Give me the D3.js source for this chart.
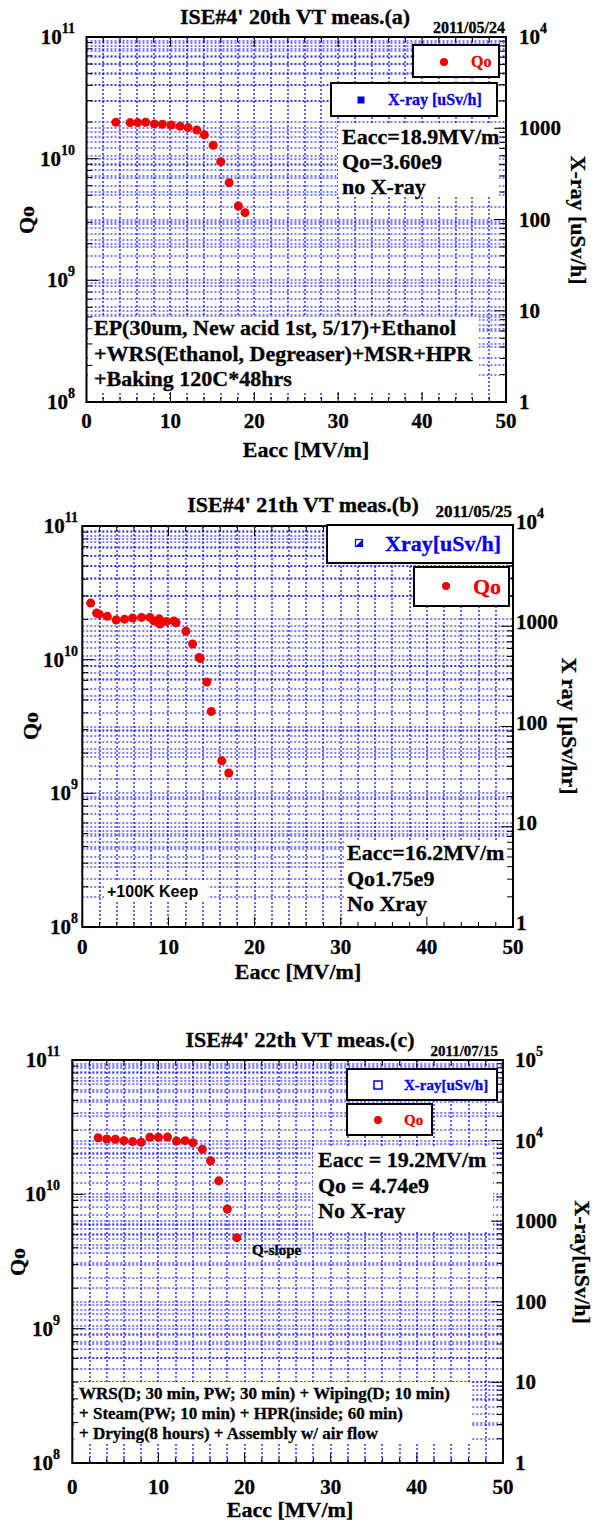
<!DOCTYPE html>
<html>
<head>
<meta charset="utf-8">
<script src="https://cdn.jsdelivr.net/npm/d3@7"></script>
<style>
  body { margin: 0; background: #fff; }
  text { font-family: "Liberation Serif", "Times New Roman", serif; font-weight: bold; stroke: #000; stroke-width: 0.3px; }
</style>
</head>
<body>
<svg id="chart" width="599" height="1522"></svg>
<script>
// --- data ---
// (a) 20th VT, 2011/05/24
const eaccA = [3.5, 5.2, 6.1, 7.05, 8.1, 9.05, 10.1, 11.15, 12.1, 13.15, 14.05, 15.1, 16.0, 17.0, 18.1, 18.9];
const qoA = [1.99e10, 1.98e10, 1.98e10, 1.99e10, 1.93e10, 1.92e10, 1.89e10, 1.85e10, 1.8e10, 1.72e10, 1.57e10, 1.29e10, 9.45e9, 6.35e9, 4.08e9, 3.6e9];
// (b) 21th VT, 2011/05/25
const eaccB = [0.97, 1.66, 1.97, 2.9, 3.94, 4.91, 5.84, 6.88, 7.85, 8.31, 8.93, 9.01, 9.78, 10.63, 10.87, 12.03, 12.8, 13.57, 13.69, 14.46, 14.97, 16.2, 17.0];
const qoB = [2.65e10, 2.23e10, 2.19e10, 2.11e10, 1.98e10, 2.01e10, 2.05e10, 2.07e10, 2.07e10, 1.95e10, 2.02e10, 1.85e10, 1.93e10, 1.95e10, 1.89e10, 1.63e10, 1.31e10, 1.04e10, 1.02e10, 6.8e9, 4.1e9, 1.75e9, 1.42e9];
// (c) 22th VT, 2011/07/15
const eaccC = [3.0, 4.0, 5.0, 6.0, 7.0, 8.0, 9.0, 10.0, 11.05, 12.1, 13.1, 14.0, 15.1, 16.05, 17.0, 18.0, 19.1];
const qoC = [2.64e10, 2.58e10, 2.57e10, 2.51e10, 2.47e10, 2.44e10, 2.66e10, 2.66e10, 2.67e10, 2.49e10, 2.51e10, 2.42e10, 2.17e10, 1.78e10, 1.26e10, 7.78e9, 4.76e9];

// axis tick labels
const xTickValues = [0, 10, 20, 30, 40, 50];
const qoTickExps = [8, 9, 10, 11];
const xrayTicksAB = [1, 10, 100, 1000, 10000];
const xrayTicksC = [1, 10, 100, 1000, 10000, 100000];

const svg = d3.select("#chart");
const red = "#ee0000";
const blue = "#0000ee";

const isDecade = d => Math.abs(Math.log10(d) - Math.round(Math.log10(d))) < 1e-9;

// "10" with a raised exponent
const powText = (sel, exp) => {
  sel.text("10");
  sel.append("tspan").attr("dy", -11).attr("font-size", 14).text(exp);
};

const drawPanel = p => {
  const g = svg.append("g");
  const x = d3.scaleLinear().domain([0, 50]).range([p.left, p.right]);
  const y = d3.scaleLog().domain([1e8, 1e11]).range([p.bottom, p.top]);
  const yr = d3.scaleLog().domain(p.xrayDomain).range([p.bottom, p.top]);
  const px = v => Math.round(v);

  //Grid (both log axes get their own dotted lines)
  const grid = g.append("g")
    .attr("stroke", "#0000ff")
    .attr("stroke-width", 1.2)
    .attr("stroke-dasharray", "2,2");
  grid.selectAll("line.gx")
    .data(x.ticks(25).filter(d => d > 0 && d < 50))
    .join("line").attr("class", "gx")
    .attr("x1", d => px(x(d))).attr("x2", d => px(x(d)))
    .attr("y1", p.top).attr("y2", p.bottom);
  grid.selectAll("line.gy")
    .data(y.ticks().filter(d => d > 1e8 && d < 1e11))
    .join("line").attr("class", "gy")
    .attr("x1", p.left).attr("x2", p.right)
    .attr("y1", d => px(y(d))).attr("y2", d => px(y(d)));
  grid.selectAll("line.gr")
    .data(yr.ticks().filter(d => d > p.xrayDomain[0] && d < p.xrayDomain[1]))
    .join("line").attr("class", "gr")
    .attr("x1", p.left).attr("x2", p.right)
    .attr("y1", d => px(yr(d))).attr("y2", d => px(yr(d)));

  //White boxes behind the notes
  g.selectAll("rect.bg")
    .data(p.boxes)
    .join("rect").attr("class", "bg")
    .attr("x", d => d[0]).attr("y", d => d[1])
    .attr("width", d => d[2]).attr("height", d => d[3])
    .attr("fill", "#fff");

  //Ticks
  const ticks = g.append("g").attr("stroke", "#000").attr("stroke-width", 1);
  ticks.selectAll("line.tl").data(y.ticks()).join("line").attr("class", "tl")
    .attr("x1", p.left).attr("x2", d => p.left + (isDecade(d) ? 12 : 6))
    .attr("y1", d => y(d)).attr("y2", d => y(d));
  ticks.selectAll("line.tr").data(yr.ticks()).join("line").attr("class", "tr")
    .attr("x1", p.right).attr("x2", d => p.right - (isDecade(d) ? 12 : 6))
    .attr("y1", d => yr(d)).attr("y2", d => yr(d));
  ticks.selectAll("line.tb").data(x.ticks(25)).join("line").attr("class", "tb")
    .attr("x1", d => x(d)).attr("x2", d => x(d))
    .attr("y1", p.bottom).attr("y2", d => p.bottom - (d % 10 === 0 ? 10 : 5));
  ticks.selectAll("line.tt").data(x.ticks(25)).join("line").attr("class", "tt")
    .attr("x1", d => x(d)).attr("x2", d => x(d))
    .attr("y1", p.top).attr("y2", d => p.top + (d % 10 === 0 ? 10 : 5));

  //Frame
  g.append("rect")
    .attr("x", p.left).attr("y", p.top)
    .attr("width", p.right - p.left).attr("height", p.bottom - p.top)
    .attr("fill", "none").attr("stroke", "#000").attr("stroke-width", 2);

  //Tick labels
  g.selectAll("text.xl").data(xTickValues).join("text").attr("class", "xl")
    .attr("x", d => x(d)).attr("y", p.bottom + p.xLabelGap)
    .attr("text-anchor", "middle").attr("font-size", 21)
    .text(d => d);
  g.selectAll("text.yl").data(qoTickExps).join("text").attr("class", "yl")
    .attr("x", p.leftLabelEnd).attr("y", d => y(Math.pow(10, d)) + 7)
    .attr("text-anchor", "end").attr("font-size", 21)
    .each(function (d) { powText(d3.select(this), d); });
  g.selectAll("text.rl").data(p.xrayTicks).join("text").attr("class", "rl")
    .attr("x", p.rightLabelStart).attr("y", d => yr(d) + p.rightLabelDy)
    .attr("font-size", 21)
    .each(function (d) {
      if (d >= 10000) powText(d3.select(this), Math.round(Math.log10(d)));
      else d3.select(this).text(d);
    });

  //Axis titles
  g.append("text")
    .attr("x", p.xTitle[0]).attr("y", p.xTitle[1])
    .attr("text-anchor", "middle").attr("font-size", 22)
    .text("Eacc [MV/m]");
  g.append("text")
    .attr("transform", `translate(${p.yTitle[0]},${p.yTitle[1]}) rotate(-90)`)
    .attr("dy", "0.35em").attr("text-anchor", "middle").attr("font-size", 22)
    .text("Qo");
  g.append("text")
    .attr("transform", `translate(${p.rTitle[0]},${p.rTitle[1]}) rotate(90)`)
    .attr("dy", "0.35em").attr("text-anchor", "middle").attr("font-size", 22)
    .text(p.rTitleText);

  //Title and date
  g.append("text")
    .attr("x", p.title[0]).attr("y", p.title[1])
    .attr("text-anchor", "middle").attr("font-size", 22)
    .text(p.titleText);
  g.append("text")
    .attr("x", p.date[0]).attr("y", p.date[1])
    .attr("text-anchor", "end").attr("font-size", p.date[2])
    .text(p.dateText);

  //Qo points
  g.selectAll("circle.pt")
    .data(p.eacc.map((e, i) => [e, p.qo[i]]))
    .join("circle").attr("class", "pt")
    .attr("cx", d => x(d[0])).attr("cy", d => y(d[1]))
    .attr("r", 4.5).attr("fill", red);

  //Notes
  p.notes.forEach(n => {
    g.append("g").selectAll("text")
      .data(n.lines)
      .join("text")
      .attr("x", n.x).attr("y", (d, i) => n.y[i])
      .attr("font-size", n.size)
      .style("font-family", n.sans ? "'Liberation Sans', Arial, sans-serif" : null)
      .style("stroke-width", n.sans ? "0px" : null)
      .text(d => d);
  });

  //Legends
  p.legends.forEach(l => {
    const lg = g.append("g");
    const col = l.marker === "dot" ? red : blue;
    lg.append("rect")
      .attr("x", l.box[0]).attr("y", l.box[1])
      .attr("width", l.box[2]).attr("height", l.box[3])
      .attr("fill", "#fff").attr("stroke", "#000").attr("stroke-width", 2);
    const [sx, sy] = l.sym;
    if (l.marker === "dot") {
      lg.append("circle").attr("cx", sx).attr("cy", sy).attr("r", 4).attr("fill", red);
    } else if (l.marker === "square") {
      lg.append("rect").attr("x", sx - 3.5).attr("y", sy - 3.5)
        .attr("width", 7).attr("height", 7).attr("fill", blue);
    } else if (l.marker === "half") {
      lg.append("rect").attr("x", sx - 3.5).attr("y", sy - 3.5)
        .attr("width", 7).attr("height", 7).attr("fill", "#fff")
        .attr("stroke", blue).attr("stroke-width", 1.2);
      lg.append("path")
        .attr("d", `M${sx + 3.5},${sy - 3.5}L${sx + 3.5},${sy + 3.5}L${sx - 3.5},${sy + 3.5}Z`)
        .attr("fill", blue);
    } else {
      lg.append("rect").attr("x", sx - 4).attr("y", sy - 4)
        .attr("width", 8).attr("height", 8).attr("fill", "none")
        .attr("stroke", blue).attr("stroke-width", 1.5);
    }
    lg.append("text")
      .attr("x", l.text[0]).attr("y", l.text[1])
      .attr("font-size", l.size)
      .attr("fill", col)
      .style("stroke", col)
      .text(l.label);
  });
};

drawPanel({
  left: 86.5, right: 506, top: 37, bottom: 402,
  xrayDomain: [1, 1e4], xrayTicks: xrayTicksAB,
  eacc: eaccA, qo: qoA,
  xLabelGap: 26, leftLabelEnd: 75, rightLabelStart: 519, rightLabelDy: 7,
  titleText: "ISE#4' 20th VT meas.(a)", title: [295, 24],
  dateText: "2011/05/24", date: [505, 33, 16],
  xTitle: [306, 457], yTitle: [26, 220], rTitle: [579, 220], rTitleText: "X-ray [uSv/h]",
  boxes: [[338, 125, 161, 72], [88, 317, 391, 76]],
  notes: [
    { x: 342, y: [144, 169, 194], size: 22, lines: ["Eacc=18.9MV/m", "Qo=3.60e9", "no X-ray"] },
    { x: 94, y: [335, 361, 386], size: 22, lines: ["EP(30um, New acid 1st, 5/17)+Ethanol", "+WRS(Ethanol, Degreaser)+MSR+HPR", "+Baking 120C*48hrs"] }
  ],
  legends: [
    { box: [413, 45, 86, 32], marker: "dot", sym: [444, 62], text: [471, 67], size: 16, label: "Qo" },
    { box: [331, 83, 166, 33], marker: "square", sym: [361, 100], text: [388, 105], size: 16, label: "X-ray [uSv/h]" }
  ]
});

drawPanel({
  left: 82.3, right: 513, top: 526, bottom: 927,
  xrayDomain: [1, 1e4], xrayTicks: xrayTicksAB,
  eacc: eaccB, qo: qoB,
  xLabelGap: 27, leftLabelEnd: 78, rightLabelStart: 516, rightLabelDy: 3,
  titleText: "ISE#4' 21th VT meas.(b)", title: [303, 512],
  dateText: "2011/05/25", date: [512, 517, 17],
  xTitle: [298, 979], yTitle: [30, 726], rTitle: [570, 726], rTitleText: "X ray [\u03bcSv/hr]",
  boxes: [[344, 840, 169, 87], [104, 880, 104, 22]],
  notes: [
    { x: 347, y: [860, 886, 911], size: 22, lines: ["Eacc=16.2MV/m", "Qo1.75e9", "No Xray"] },
    { x: 107, y: [897], size: 16, sans: true, lines: ["+100K Keep"] }
  ],
  legends: [
    { box: [327, 525, 186, 38], marker: "half", sym: [359, 543], text: [385, 551], size: 22, label: "Xray[uSv/h]" },
    { box: [414, 567, 95, 39], marker: "dot", sym: [446, 586], text: [473, 594], size: 22, label: "Qo" }
  ]
});

drawPanel({
  left: 72.3, right: 503, top: 1060, bottom: 1463,
  xrayDomain: [1, 1e5], xrayTicks: xrayTicksC,
  eacc: eaccC, qo: qoC,
  xLabelGap: 31, leftLabelEnd: 60, rightLabelStart: 515, rightLabelDy: 7,
  titleText: "ISE#4' 22th VT meas.(c)", title: [300, 1047],
  dateText: "2011/07/15", date: [498, 1056, 15],
  xTitle: [290, 1517], yTitle: [17, 1262], rTitle: [583, 1262], rTitleText: "X-ray[uSv/h]",
  boxes: [[313, 1147, 180, 83], [75, 1382, 396, 62]],
  notes: [
    { x: 318, y: [1167, 1193, 1218], size: 22, lines: ["Eacc = 19.2MV/m", "Qo = 4.74e9", "No X-ray"] },
    { x: 79, y: [1399, 1419, 1439], size: 17, lines: ["WRS(D; 30 min, PW; 30 min) + Wiping(D; 10 min)", "+ Steam(PW; 10 min) + HPR(inside; 60 min)", "+ Drying(8 hours) + Assembly w/ air flow"] },
    { x: 252, y: [1255], size: 15, lines: ["Q-slope"] }
  ],
  legends: [
    { box: [347, 1069, 150, 31], marker: "open", sym: [378, 1085], text: [404, 1090], size: 15, label: "X-ray[uSv/h]" },
    { box: [347, 1104, 85, 31], marker: "dot", sym: [378, 1120], text: [404, 1125], size: 15, label: "Qo" }
  ]
});
</script>
</body>
</html>
